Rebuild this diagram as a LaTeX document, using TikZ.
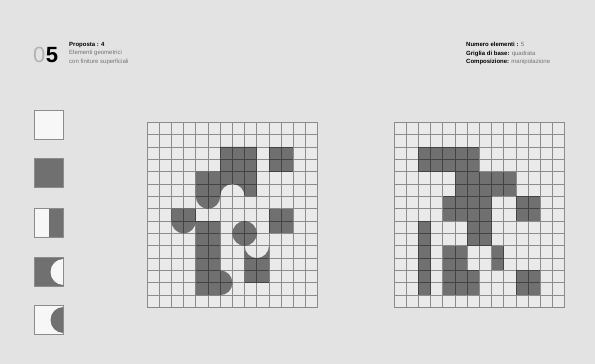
\documentclass[tikz,border=0pt]{standalone}
\usepackage{fontspec}
\setmainfont{Liberation Sans}
\usetikzlibrary{positioning}
\definecolor{PageGray}{RGB}{227,227,227}
\definecolor{CellGray}{RGB}{234,234,234}
\definecolor{InkGray}{RGB}{112,112,112}
\definecolor{EdgeGray}{RGB}{140,140,140}

\begin{document}
\begin{tikzpicture}[
    x=1pt, y=1pt,
    tile/.style={rectangle,draw=EdgeGray,line width=1.4pt,fill=CellGray!40!white,minimum size=29pt,inner sep=0pt},
    darktile/.style={tile,fill=InkGray},
    ink/.style={fill=InkGray},
    gridline/.style={draw=black,draw opacity=0.4,line width=0.75pt},
    header/.style={font=\fontsize{6}{8.5}\selectfont,align=left,inner sep=0pt,anchor=north west},
    light/.style={text=black!55}
]
\fill[PageGray] (0,0) rectangle (595,364);
\useasboundingbox (0,0) rectangle (595,364);

% Header
\node[font=\fontsize{22}{22}\selectfont,text=black!30,anchor=base west,inner sep=0pt] (zero) at (33,301) {0};
\node[font=\fontsize{22}{22}\selectfont\bfseries,anchor=base west,inner sep=0pt] (five) at (zero.base east) {5};
\node[header] (proposal) at (69,322) {\textbf{Proposta : 4}\\{\color{black!55}Elementi geometrici}\\{\color{black!55}con finiture superficiali}};
\node[header] (specs) at (466,322) {\textbf{Numero elementi :} {\color{black!55}5}\\\textbf{Griglia di base:} {\color{black!55}quadrata}\\\textbf{Composizione:} {\color{black!55}manipolazione}};

% Elements
\node[tile] (tile1) at (49,239) {};
\node[darktile] (tile2) at (49,191) {};
\node[tile,path picture={\fill[InkGray] (path picture bounding box.north) rectangle (path picture bounding box.south east);}] (tile3) at (49,141) {};
\node[darktile,path picture={\fill[CellGray!40!white] (path picture bounding box.east) circle (13);}] (tile4) at (49,92) {};
\node[tile,path picture={\fill[InkGray] (path picture bounding box.east) circle (13);}] (tile5) at (49,44) {};

% Composition with all elements
\begin{scope}[shift={(147,56.5)},x=12.2pt,y=12.35pt]
  \fill[CellGray] (0,0) rectangle (14,15);
  \fill[ink] (4,11) -- (4,9) arc[start angle=180,end angle=360,radius=1]
    arc[start angle=180,end angle=0,radius=1] -- (9,9) -- (9,13) -- (6,13) -- (6,11) -- cycle;
  \fill[ink] (10,11) rectangle (12,13);
  \fill[ink] (2,8) -- (2,7) arc[start angle=180,end angle=360,radius=1] -- (4,8) -- cycle;
  \fill[ink] (4,7) -- (4,1) -- (6,1) arc[start angle=-90,end angle=90,radius=1] -- (6,7) -- cycle;
  \fill[ink] (8,6) circle (1);
  \fill[ink] (10,6) rectangle (12,8);
  \fill[ink] (8,2) -- (10,2) -- (10,5) arc[start angle=0,end angle=-180,radius=1] -- (8,5) -- cycle;
  \draw[gridline] (0,0) grid[step=1] (14,15);
\end{scope}

% Composition with squares only
\begin{scope}[shift={(394,56.5)},x=12.2pt,y=12.35pt]
  \fill[CellGray] (0,0) rectangle (14,15);
  \fill[ink] (2,11) rectangle (7,13);
  \fill[ink] (5,9) rectangle (10,11);
  \fill[ink] (4,7) rectangle (8,9);
  \fill[ink] (10,7) rectangle (12,9);
  \fill[ink] (6,5) rectangle (8,7);
  \fill[ink] (2,1) rectangle (3,7);
  \fill[ink] (4,1) rectangle (6,5);
  \fill[ink] (6,1) rectangle (7,3);
  \fill[ink] (8,3) rectangle (9,5);
  \fill[ink] (10,1) rectangle (12,3);
  \draw[gridline] (0,0) grid[step=1] (14,15);
\end{scope}
\end{tikzpicture}
\end{document}
